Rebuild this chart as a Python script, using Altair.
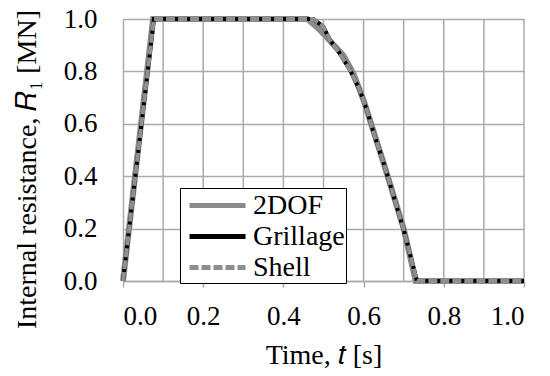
import altair as alt
import pandas as pd

series_names = ["2DOF", "Grillage", "Shell"]

t_2dof = [0.0, 0.075, 0.46, 0.49, 0.52, 0.55, 0.575, 0.60, 0.65, 0.70, 0.73, 1.0]
r_2dof = [0.0, 1.0, 1.0, 0.96, 0.91, 0.86, 0.79, 0.69, 0.45, 0.20, 0.0, 0.0]

t_grill = [0.0, 0.077, 0.475, 0.50, 0.516, 0.54, 0.566, 0.59, 0.608, 0.628, 0.653, 0.70, 0.733, 1.0]
r_grill = [0.0, 1.0, 1.0, 0.97, 0.92, 0.87, 0.805, 0.73, 0.653, 0.551, 0.436, 0.195, 0.0, 0.0]

t_shell = [0.0, 0.077, 0.475, 0.50, 0.516, 0.54, 0.566, 0.59, 0.608, 0.628, 0.653, 0.70, 0.733, 1.0]
r_shell = [0.0, 1.0, 1.0, 0.97, 0.92, 0.87, 0.805, 0.73, 0.653, 0.551, 0.436, 0.195, 0.0, 0.0]

x_ticks = [0.0, 0.2, 0.4, 0.6, 0.8, 1.0]
y_ticks = [0.0, 0.2, 0.4, 0.6, 0.8, 1.0]
x_grid = [0.1, 0.2, 0.3, 0.4, 0.5, 0.6, 0.7, 0.8, 0.9, 1.0]

colors = ["#8a8a8a", "#000000", "#8f8f8f"]
dashes = [[1, 0], [1, 0], [9, 3]]
widths = [6, 4, 4]

frames = []
for name, ts, rs in zip(series_names, [t_2dof, t_grill, t_shell], [r_2dof, r_grill, r_shell]):
    frames.append(pd.DataFrame({"t": ts, "r": rs, "series": name}))
df = pd.concat(frames, ignore_index=True)
df["order"] = df.groupby("series").cumcount()

grid_df = pd.DataFrame({"t": x_grid})

FONT = "Liberation Serif"
GRID = "#ababab"

x_axis = alt.Axis(values=x_ticks, format=".1f", grid=False, ticks=True, tickSize=6,
                  tickColor=GRID, tickWidth=1.5, labelPadding=16, titlePadding=12,
                  domainColor=GRID, domainWidth=1.5,
                  labelFont=FONT, labelFontSize=27, labelColor="black",
                  titleFont=FONT, titleFontSize=28, titleFontWeight="normal", titleColor="black")
y_axis = alt.Axis(values=y_ticks, format=".1f", grid=True, gridColor=GRID, gridWidth=1.5,
                  ticks=False, tickSize=0, labelPadding=26, titlePadding=22, titleY=150,
                  domainColor=GRID, domainWidth=1.5,
                  labelFont=FONT, labelFontSize=27, labelColor="black",
                  titleFont=FONT, titleFontSize=28, titleFontWeight="normal", titleColor="black")

x_enc = alt.X("t:Q", scale=alt.Scale(domain=[0, 1], nice=False), axis=x_axis,
              title="Time, \U0001D461 [s]")
y_enc = alt.Y("r:Q", scale=alt.Scale(domain=[0, 1], nice=False), axis=y_axis,
              title="Internal resistance, \U0001D445\u2081 [MN]")

legend = alt.Legend(title=None, orient="none", legendX=57, legendY=169,
                    symbolType="M-0.57,0H3.43", symbolSize=784, symbolStrokeWidth=5,
                    labelFont=FONT, labelFontSize=28, labelExpr="datum.label + ' '",
                    labelColor="black", strokeColor="black", fillColor="white", padding=1,
                    rowPadding=0, labelOffset=39, labelLimit=300)

color_enc = alt.Color("series:N", scale=alt.Scale(domain=series_names, range=colors), legend=legend)
dash_enc = alt.StrokeDash("series:N", scale=alt.Scale(domain=series_names, range=dashes), legend=legend)

grid_layer = alt.Chart(grid_df).mark_rule(color=GRID, strokeWidth=1.5).encode(x=x_enc)

layers = [grid_layer]
for name, w in zip(series_names, widths):
    layers.append(
        alt.Chart(df).transform_filter(alt.datum.series == name)
        .mark_line(strokeWidth=w, clip=False)
        .encode(x=x_enc, y=y_enc, color=color_enc, strokeDash=dash_enc, order="order:Q")
    )

chart = alt.layer(*layers).properties(
    width=401, height=262,
    autosize=alt.AutoSizeParams(type="none"),
    padding={"left": 115, "top": 11, "right": 18, "bottom": 87},
    background="white",
).configure(font=FONT).configure_view(stroke=None).configure_axis(
    labelFont=FONT, titleFont=FONT
).configure_legend(labelFont=FONT)

chart.save("out.html", embed_options={"renderer": "svg", "actions": False})
